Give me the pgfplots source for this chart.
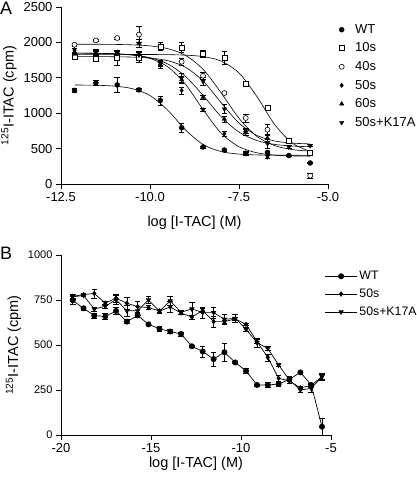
\documentclass[border=0pt]{standalone}
\usepackage{pgfplots}
\pgfplotsset{compat=1.18}
\usepackage{pgfplotstable}
\usepackage{fontspec}
\setmainfont{Liberation Sans}

\pgfplotstableread{
x y e
-12.12 1322 30
-11.52 1427 40
-10.92 1400 105
-10.31 1330 15
-9.71 1180 65
-9.11 795 60
-8.51 523 15
-7.91 480 15
-7.31 430 20
-6.70 446 15
-6.10 402 10
-5.50 297 10
}\AWT
\pgfplotstableread{
x y e
-12.12 1802 25
-11.52 1765 35
-10.92 1784 110
-10.31 1784 70
-9.71 1944 60
-9.11 1929 70
-8.51 1840 55
-7.91 1779 90
-7.31 1412 20
-6.70 1073 30
-6.10 616 30
-5.50 447 20
}\Aten
\pgfplotstableread{
x y e
-12.12 1967 25
-11.52 2028 15
-10.92 2062 15
-10.31 2111 110
-9.11 1727 50
-8.51 1529 45
-7.91 1285 25
-7.31 932 55
-6.70 767 70
-5.50 117 35
}\Aforty
\pgfplotstableread{
x y e
-12.12 1885 30
-11.52 1860 30
-10.92 1850 30
-10.31 1830 40
-9.71 1675 40
-9.11 1322 50
-8.51 1049 25
-7.91 710 35
-7.31 440 20
-6.70 380 20
}\Afifty
\pgfplotstableread{
x y e
-12.12 1836 30
-11.52 1845 30
-10.92 1860 30
-10.31 1985 60
-9.71 1690 50
-9.11 1473 55
-8.51 1228 30
-7.91 918 40
-7.31 750 40
-6.70 650 40
}\Asixty
\pgfplotstableread{
x y e
-12.12 1900 60
-11.52 1870 30
-10.92 1850 30
-10.31 1820 40
-9.71 1705 40
-9.11 1500 60
-8.51 1449 60
-7.91 1059 60
-7.31 730 45
-6.70 569 60
-6.10 522 20
-5.50 541 15
}\AKA

\pgfplotstableread{
x wt wte f fe k ke
-19.35 748 20 770 10 768 15
-18.75 704 12 780 5 775 5
-18.15 663 15 786 25 700 10
-17.54 659 15 733 10 715 10
-16.94 689 20 760 20 752 25
-16.34 630 12 732 35 690 30
-15.74 664 12 713 30 690 25
-15.14 615 5 708 10 750 20
-14.53 590 12 689 10 688 10
-13.93 575 12 711 30 745 25
-13.33 561 12 678 10 682 10
-12.73 493 5 655 10 700 35
-12.13 464 30 692 10 680 30
-11.52 422 40 630 30 680 30
-10.92 460 50 630 10 643 30
-10.32 403 5 645 10 648 20
-9.72 356 15 615 5 587 10
-9.11 278 5 519 10 513 25
-8.51 278 15 431 20 481 10
-7.91 283 10 315 15 389 10
-7.31 309 10 300 10 306 20
-6.70 348 5 262 10 250 10
-6.10 278 10 275 10 259 20
-5.50 46 45 325 15 324 20
}\Bdata

\pgfplotsset{
  gp/.style={
    scale only axis,
    axis x line=bottom, axis y line=left,
    axis line style={-, line width=0.8pt},
    tick align=outside,
    major tick length=5pt,
    tick style={line width=0.8pt, black},
    every tick label/.append style={font=\fontsize{13}{15}\selectfont},
    /pgf/number format/assume math mode=true,
    label style={font=\fontsize{14.5}{16}\selectfont},
    clip=false,
    legend cell align=left,
  },
  eb/.style={error bars/.cd, y dir=both, y explicit,
    error bar style={line width=0.6pt, black},
    error mark options={rotate=90, mark size=2.8pt, line width=0.6pt, black}},
}

\begin{document}
\begin{tikzpicture}
\begin{axis}[gp,
  width=267pt, height=177pt,
  xmin=-12.5, xmax=-5, ymin=0, ymax=2500,
  xtick={-12.5,-10,-7.5,-5},
  xticklabel style={/pgf/number format/.cd, fixed, fixed zerofill, precision=1},
  ytick={0,500,...,2500},
  yticklabel style={/pgf/number format/.cd, fixed, 1000 sep={}},
  xlabel={log [I-TAC] (M)},
  xlabel style={yshift=-7pt},
  ylabel={\textsuperscript{125}I-ITAC (cpm)},
  legend style={at={(1.03,0.925)}, anchor=north west, draw=none, fill=none,
    font=\fontsize{13}{15}\selectfont, row sep=4pt, column sep=9pt},
]
\addplot[black, line width=0.6pt, smooth, forget plot] coordinates {
(-12.12,1398.7) (-11.5,1394.4) (-11,1382.6) (-10.5,1347.0) (-10,1249.8) (-9.5,1041.8) (-9,763.1) (-8.5,555.2) (-8,458.0) (-7.5,422.4) (-7,410.6) (-6.5,406.8) (-6,405.6) (-5.5,405.2)};
\addplot[black, line width=0.6pt, smooth, forget plot] coordinates {
(-12.12,1830) (-11.5,1830) (-11,1829.9) (-10.5,1829.7) (-10,1829.0) (-9.5,1826.8) (-9,1819.9) (-8.5,1798.7) (-8,1735.5) (-7.5,1568.4) (-7,1237.2) (-6.5,841.5) (-6,577.0) (-5.5,461.2)};
\addplot[black, line width=0.6pt, smooth, forget plot] coordinates {
(-12.12,1974.6) (-11.5,1973.7) (-11,1971.5) (-10.5,1965.7) (-10,1950.4) (-9.5,1911.2) (-9,1816.3) (-8.5,1615.0) (-8,1286.9) (-7.5,928.4) (-7,673.6) (-6.5,542.5) (-6,486.1) (-5.5,463.8)};
\addplot[black, line width=0.6pt, smooth, forget plot] coordinates {
(-12.12,1849.0) (-11.5,1846.4) (-11,1840.0) (-10.5,1822.1) (-10,1773.9) (-9.5,1654.2) (-9,1406.4) (-8.5,1044.6) (-8,716.8) (-7.5,525.5) (-7,441.2) (-6.5,408.6) (-6,396.6) (-5.5,392.4)};
\addplot[black, line width=0.6pt, smooth, forget plot] coordinates {
(-12.12,1848.6) (-11.5,1845.6) (-11,1839.0) (-10.5,1822.8) (-10,1783.7) (-9.5,1695.1) (-9,1519.1) (-8.5,1246.1) (-8,950.5) (-7.5,732.9) (-7,613.8) (-6.5,559.0) (-6,535.8) (-5.5,526.3)};
\addplot[black, line width=0.6pt, smooth, forget plot] coordinates {
(-12.12,1799.7) (-11.5,1799.0) (-11,1797.3) (-10.5,1792.3) (-10,1778.6) (-9.5,1741.5) (-9,1648.1) (-8.5,1449.8) (-8,1147.9) (-7.5,860.5) (-7,686.4) (-6.5,608.0) (-6,577.5) (-5.5,566.3)};

\addplot[only marks, mark=*, mark size=2.5pt, mark options={fill=black, draw=black}, eb] table[x=x, y=y, y error=e] {\AWT};
\addlegendentry{WT}
\addplot[only marks, mark=square*, mark size=2.5pt, mark options={fill=white, draw=black, line width=0.6pt}, eb] table[x=x, y=y, y error=e] {\Aten};
\addlegendentry{10s}
\addplot[only marks, mark=*, mark size=2.5pt, mark options={fill=white, draw=black, line width=0.6pt}, eb] table[x=x, y=y, y error=e] {\Aforty};
\addlegendentry{40s}
\addplot[only marks, mark=diamond*, mark size=2.2pt, mark options={fill=black, draw=black}, eb] table[x=x, y=y, y error=e] {\Afifty};
\addlegendentry{50s}
\addplot[only marks, mark=triangle*, mark size=2.5pt, mark options={fill=black, draw=black}, eb] table[x=x, y=y, y error=e] {\Asixty};
\addlegendentry{60s}
\addplot[only marks, mark=triangle*, mark size=2.5pt, mark options={fill=black, draw=black, rotate=180}, eb] table[x=x, y=y, y error=e] {\AKA};
\addlegendentry{50s+K17A}
\end{axis}

\begin{scope}[yshift=-251pt]
\begin{axis}[gp,
  width=270pt, height=180pt,
  xmin=-20, xmax=-5, ymin=0, ymax=1000,
  xtick={-20,-15,-10,-5},
  ytick={0,250,...,1000},
  yticklabel style={font=\fontsize{11}{13}\selectfont, /pgf/number format/.cd, fixed, 1000 sep={}},
  xlabel={log [I-TAC] (M)},
  xlabel style={yshift=3pt},
  ylabel={\textsuperscript{125}I-ITAC (cpm)},
  legend style={at={(0.965,0.933)}, anchor=north west, draw=none, fill=none,
    font=\fontsize{12.3}{14.5}\selectfont, row sep=3.8pt},
  legend image code/.code={\draw[mark repeat=2, mark phase=2, #1] plot coordinates {(0pt,0pt) (16pt,0pt) (32pt,0pt)};},
]
\addplot[black, line width=0.7pt, mark=*, mark size=2.6pt, mark options={fill=black}, eb] table[x=x, y=wt, y error=wte] {\Bdata};
\addlegendentry{WT}
\addplot[black, line width=0.7pt, mark=diamond*, mark size=2.2pt, mark options={fill=black}, eb] table[x=x, y=f, y error=fe] {\Bdata};
\addlegendentry{50s}
\addplot[black, line width=0.7pt, mark=triangle*, mark size=2.4pt, mark options={fill=black, rotate=180}, eb] table[x=x, y=k, y error=ke] {\Bdata};
\addlegendentry{50s+K17A}
\end{axis}
\end{scope}

\node[anchor=north west, inner sep=0pt, font=\fontsize{18}{18}\selectfont] at (-61pt,182pt) {A};
\node[anchor=north west, inner sep=0pt, font=\fontsize{18}{18}\selectfont] at (-61pt,-63pt) {B};

\pgfresetboundingbox
\path[use as bounding box] (-61pt,-297pt) rectangle (355pt,184pt);
\end{tikzpicture}
\end{document}
